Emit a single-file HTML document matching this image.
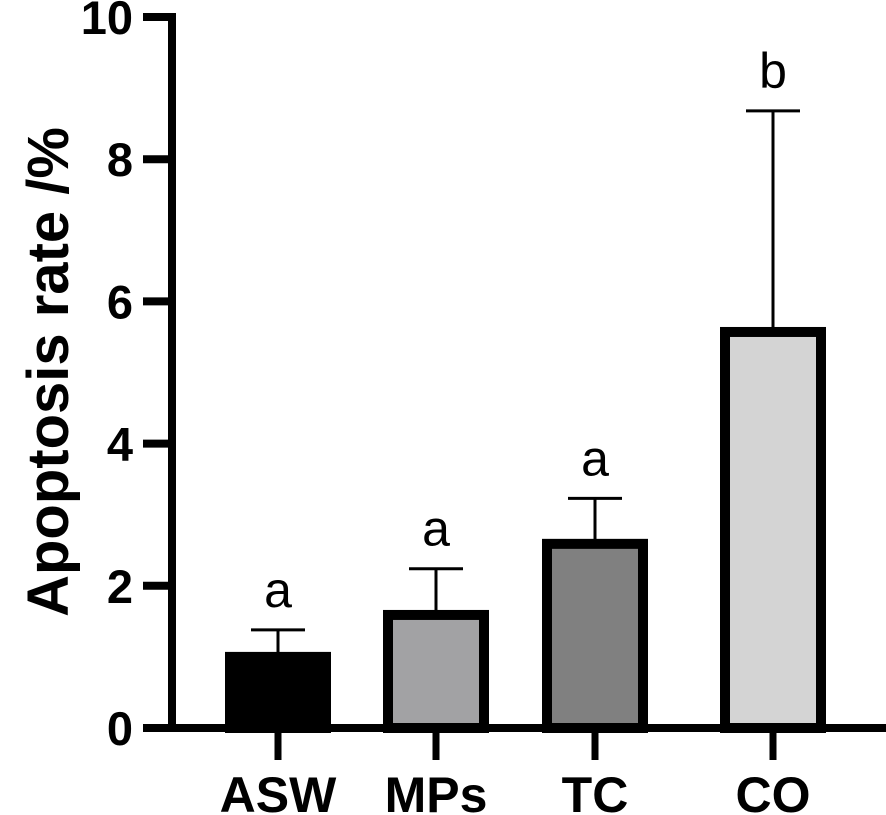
<!DOCTYPE html>
<html><head><meta charset="utf-8"><style>
body{margin:0;background:#fff;}
svg{display:block;font-family:"Liberation Sans",Arial,sans-serif;}
</style></head><body>
<svg id="chart" width="886" height="815" viewBox="0 0 886 815" xmlns="http://www.w3.org/2000/svg">
<text transform="translate(68,372) rotate(-90)" text-anchor="middle" font-size="58" font-weight="bold">Apoptosis rate /%</text>
<g id="axes"></g>
<g id="bars"></g>
</svg>
<script>
const categories = ["ASW","MPs","TC","CO"];
const means = [1.0, 1.59, 2.59, 5.57];
const errors = [0.38, 0.65, 0.64, 3.11];
const letters = ["a","a","a","b"];
const fills = ["#000000","#a2a2a4","#808080","#d4d4d4"];
const yTicks = [0,2,4,6,8,10];
const centers = [278,436,595,773];

const NS="http://www.w3.org/2000/svg";
const y0=728, y10=17;
function y(v){return y0-(y0-y10)*v/10;}
function mk(tag,attrs,parent,text){const e=document.createElementNS(NS,tag);for(const k in attrs)e.setAttribute(k,attrs[k]);if(text!==undefined)e.textContent=text;parent.appendChild(e);return e;}
const axes=document.getElementById('axes'), bars=document.getElementById('bars');

yTicks.forEach(t=>{
  const l=mk('line',{x1:143,x2:176,y1:y(t),y2:y(t),stroke:'#000','stroke-width':8},axes);
  
  
  const tx=mk('text',{x:133,y:y(t)+17,'text-anchor':'end','font-size':47,'font-weight':'bold'},axes,String(t));
  
  
});
const ya=mk('line',{x1:172,x2:172,y1:y10-4,y2:y0+4,stroke:'#000','stroke-width':8},axes);



categories.forEach((c,i)=>{
  const cx=centers[i], w=106, top=y(means[i]);
  const tk=mk('line',{x1:cx,x2:cx,y1:y0,y2:760,stroke:'#000','stroke-width':7},axes);
  
  
  const lb=mk('text',{x:cx,y:812,'text-anchor':'middle','font-size':50,'font-weight':'bold'},axes,c);
  
  
  const et=y(means[i]+errors[i]);
  const el=mk('line',{x1:cx,x2:cx,y1:et,y2:top,stroke:'#000','stroke-width':3},bars);
  
  
  const cap=mk('line',{x1:cx-27,x2:cx+27,y1:et,y2:et,stroke:'#000','stroke-width':3},bars);
  
  
  const r=mk('rect',{x:cx-w/2+5,y:top,width:w-10,height:y0-top,fill:fills[i],stroke:'#000','stroke-width':10},bars);
  
  
  const lt=mk('text',{x:cx,y:et-23,'text-anchor':'middle','font-size':50},bars,letters[i]);
  
  
});
const xa=mk('line',{x1:150,x2:886,y1:y0,y2:y0,stroke:'#000','stroke-width':8},axes);


</script>
</body></html>
